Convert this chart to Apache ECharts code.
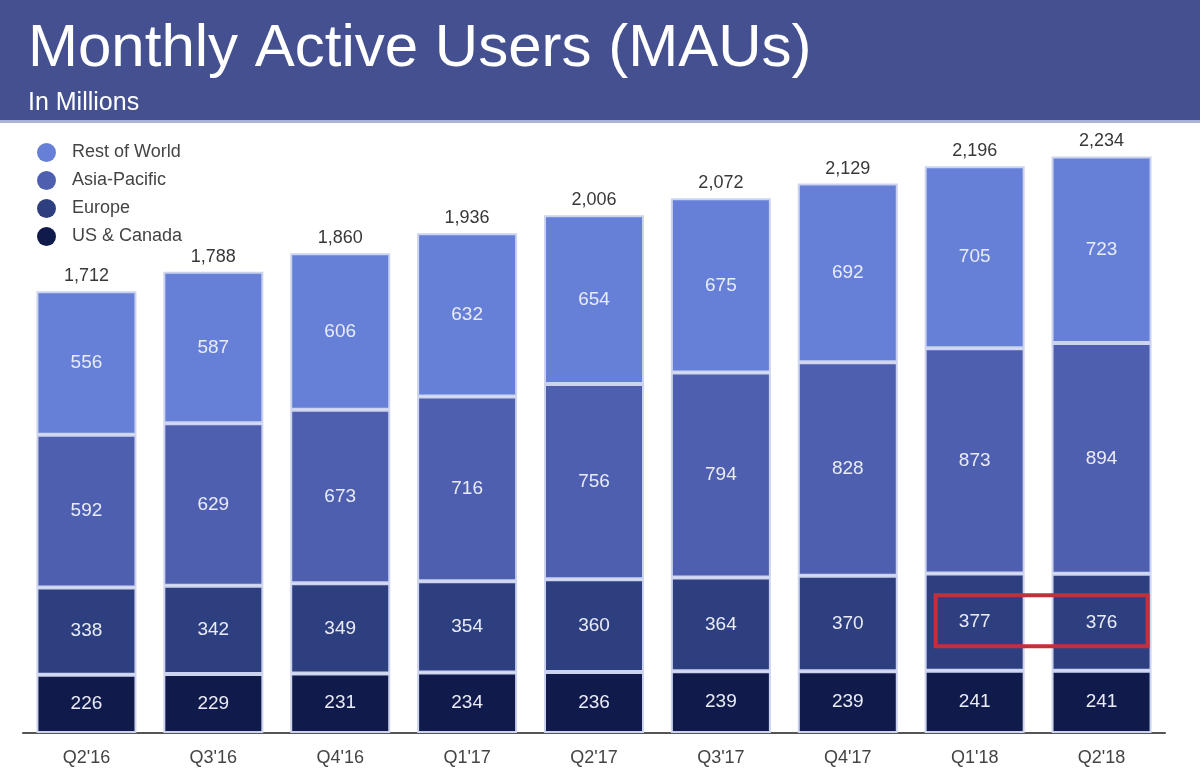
<!DOCTYPE html>
<html>
<head>
<meta charset="utf-8">
<title>Monthly Active Users (MAUs)</title>
<script src="https://cdn.jsdelivr.net/npm/echarts@6/dist/echarts.min.js"></script>
<style>
  html, body { margin: 0; padding: 0; background: #fff; }
  #main { width: 1200px; height: 777px; }
</style>
</head>
<body>
<div id="main"></div>
<script>
// categories and values
const quarters = ["Q2'16", "Q3'16", "Q4'16", "Q1'17", "Q2'17", "Q3'17", "Q4'17", "Q1'18", "Q2'18"];
const usCanada = [226, 229, 231, 234, 236, 239, 239, 241, 241];
const europe = [338, 342, 349, 354, 360, 364, 370, 377, 376];
const asiaPacific = [592, 629, 673, 716, 756, 794, 828, 873, 894];
const restOfWorld = [556, 587, 606, 632, 654, 675, 692, 705, 723];
const totals = [1712, 1788, 1860, 1936, 2006, 2072, 2129, 2196, 2234];
const highlighted = ["Q1'18", "Q2'18"];

const colors = {
    row: '#6680d8',
    apac: '#4f5fb0',
    europe: '#2e3f80',
    us: '#101a4b'
};
const font = '"Liberation Sans", Arial, Helvetica, sans-serif';

function segment(name, data, color) {
    return {
        name: name,
        type: 'bar',
        stack: 'mau',
        barWidth: 100,
        data: data,
        itemStyle: { color: color, borderColor: '#ccd3ee', borderWidth: 2 },
        label: {
            show: true,
            position: 'inside',
            color: '#e9ecf7',
            fontSize: 19,
            fontFamily: font
        },
        emphasis: { disabled: true }
    };
}

const option = {
    animation: false,
    backgroundColor: '#fff',
    title: [
        {
            text: 'Monthly Active Users (MAUs)',
            left: 23, top: 14,
            textStyle: { color: '#fff', fontSize: 60, fontWeight: 'normal', fontFamily: font }
        },
        {
            text: 'In Millions',
            left: 23, top: 86,
            textStyle: { color: '#fff', fontSize: 25, fontWeight: 'normal', fontFamily: font }
        }
    ],
    legend: {
        data: ['Rest of World', 'Asia-Pacific', 'Europe', 'US & Canada'],
        orient: 'vertical',
        left: 37, top: 143,
        padding: 0,
        icon: 'circle',
        itemWidth: 19, itemHeight: 19,
        itemGap: 9,
        selectedMode: false,
        itemStyle: { borderWidth: 0 },
        textStyle: { color: '#444', fontSize: 18, fontFamily: font, padding: [0, 0, 0, 11] }
    },
    grid: { left: 23, right: 35, top: 62, bottom: 44 },
    xAxis: {
        type: 'category',
        data: quarters,
        axisLine: { lineStyle: { color: '#555', width: 2 } },
        axisTick: { show: false },
        axisLabel: { color: '#444', fontSize: 18, fontFamily: font, margin: 16 }
    },
    yAxis: {
        type: 'value',
        min: 0, max: 2600,
        show: false,
        splitLine: { show: false }
    },
    series: [
        segment('US & Canada', usCanada, colors.us),
        segment('Europe', europe, colors.europe),
        segment('Asia-Pacific', asiaPacific, colors.apac),
        segment('Rest of World', restOfWorld, colors.row),
        {
            name: 'Total',
            type: 'bar',
            stack: 'mau',
            barWidth: 100,
            data: totals.map(() => 0),
            itemStyle: { color: 'transparent', borderWidth: 0 },
            label: {
                show: true,
                position: 'top',
                distance: 6,
                color: '#383838',
                fontSize: 18,
                fontFamily: font,
                formatter: p => totals[p.dataIndex].toLocaleString('en-US')
            },
            emphasis: { disabled: true }
        }
    ]
};

let chart = echarts.init(document.querySelector('#main'));
chart.setOption(option);

// banner and red highlight box, placed from the chart's own scales
function drawExtras() {
    const i0 = quarters.indexOf(highlighted[0]);
    const i1 = quarters.indexOf(highlighted[1]);
    const x0 = chart.convertToPixel({ gridIndex: 0 }, [i0, 0])[0];
    const x1 = chart.convertToPixel({ gridIndex: 0 }, [i1, 0])[0];
    const mid = usCanada[i0] + europe[i0] / 2;
    const yc = chart.convertToPixel({ gridIndex: 0 }, [i0, mid])[1];
    chart.setOption({
        graphic: [
            {
                type: 'rect', z: -1, silent: true,
                shape: { x: 0, y: 0, width: 1200, height: 120 },
                style: { fill: '#44508f' }
            },
            {
                type: 'rect', z: -1, silent: true,
                shape: { x: 0, y: 120, width: 1200, height: 3 },
                style: { fill: '#aab2d8' }
            },
            {
                type: 'rect', z: 100, silent: true,
                shape: { x: x0 - 39, y: yc - 27, width: (x1 + 46) - (x0 - 39), height: 51 },
                style: { fill: 'none', stroke: '#c4303a', lineWidth: 4 }
            }
        ]
    });
}
drawExtras();
</script>
</body>
</html>
